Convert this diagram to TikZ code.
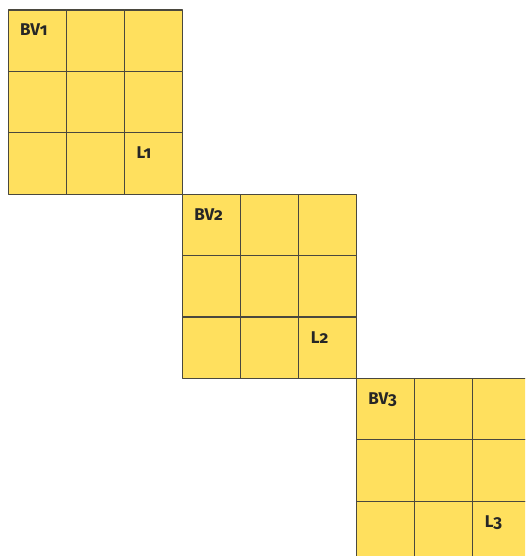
\documentclass[tikz,border=0pt]{standalone}
\usepackage{fontspec}
\setmainfont{Fira Sans}[Numbers=OldStyle]
\definecolor{boxyellow}{RGB}{255,224,94}
\definecolor{gridline}{RGB}{74,72,62}

\begin{document}
\begin{tikzpicture}[x=1pt,y=-1pt,line cap=round,line join=round,
  cell/.style={draw=gridline,fill=boxyellow,line width=1.1pt},
  lbl/.style={anchor=base west,inner sep=0pt,text=black!85,
    font=\bfseries\fontsize{17}{20}\selectfont}]
  \useasboundingbox (0,0) rectangle (525,556);
  \clip (0,0) rectangle (525,556);
  % three 3x3 blocks, corner to corner
  \foreach \i in {1,2,3}{
    \begin{scope}[shift={({174.1*(\i-1)},{184.15*(\i-1)})}]
      \foreach \c in {0,1,2}
        \foreach \r in {0,1,2}
          \draw[cell] ({8.5+58.05*\c},{10+61.4*\r}) rectangle ++(58.05,61.4);
      \node[lbl] (bv\i) at (20,36) {BV\i};
      \node[lbl] (l\i) at (136.5,159) {L\i};
    \end{scope}
  }
\end{tikzpicture}
\end{document}
